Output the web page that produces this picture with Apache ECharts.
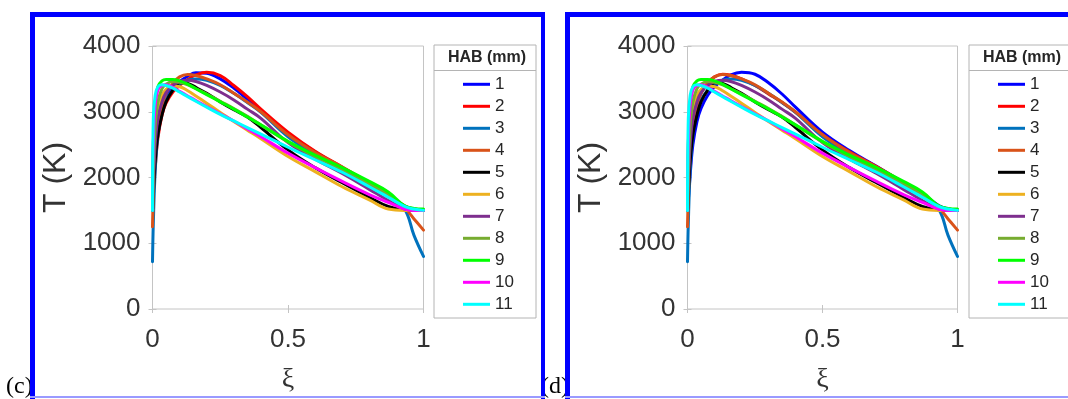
<!DOCTYPE html>
<html>
<head>
<meta charset="utf-8">
<script src="https://cdn.jsdelivr.net/npm/echarts@6/dist/echarts.min.js"></script>
<style>
  html, body { margin: 0; padding: 0; background: #fff; }
  #chart { width: 1068px; height: 399px; }
</style>
</head>
<body>
<div id="chart"></div>
<script>
// mixture fraction grid shared by all curves
const xi = [0, 0.003, 0.01, 0.02, 0.035, 0.05, 0.075, 0.1, 0.13, 0.16, 0.2, 0.25, 0.3, 0.35, 0.4, 0.5, 0.6, 0.7, 0.8, 0.87, 0.93, 0.965, 1];

// HAB 1 and 2 differ between panel (c) and (d)
const c1 = [1500, 1800, 2300, 2750, 3050, 3220, 3370, 3460, 3540, 3595, 3585, 3500, 3360, 3190, 3010, 2670, 2390, 2150, 1900, 1730, 1560, 1515, 1500];
const c2 = [1500, 1700, 2150, 2600, 2950, 3130, 3300, 3400, 3490, 3560, 3600, 3550, 3400, 3230, 3040, 2690, 2400, 2160, 1910, 1740, 1570, 1520, 1500];
const d1 = [1500, 1650, 2050, 2500, 2850, 3050, 3250, 3380, 3480, 3560, 3600, 3570, 3440, 3270, 3070, 2690, 2410, 2170, 1920, 1750, 1575, 1520, 1500];
const d2 = [1500, 1800, 2350, 2800, 3100, 3280, 3440, 3530, 3570, 3555, 3500, 3400, 3270, 3140, 2990, 2650, 2390, 2165, 1925, 1755, 1565, 1520, 1500];

// HAB 3..11, same in both panels
const t3 = [720, 1300, 2100, 2650, 3000, 3180, 3330, 3420, 3480, 3500, 3480, 3400, 3280, 3140, 2990, 2620, 2350, 2120, 1880, 1710, 1520, 1120, 800];
const t4 = [1250, 1700, 2350, 2800, 3100, 3280, 3430, 3530, 3565, 3550, 3500, 3410, 3280, 3150, 3000, 2650, 2380, 2160, 1920, 1740, 1540, 1370, 1200];
const t5 = [1500, 1750, 2250, 2650, 2950, 3150, 3330, 3440, 3430, 3370, 3280, 3150, 3030, 2920, 2760, 2420, 2150, 1920, 1700, 1560, 1510, 1500, 1500];
const t6 = [1500, 2000, 2700, 3050, 3250, 3340, 3390, 3380, 3320, 3240, 3130, 2990, 2850, 2720, 2590, 2320, 2090, 1860, 1660, 1520, 1500, 1500, 1500];
const t7 = [1500, 1900, 2500, 2900, 3150, 3290, 3400, 3460, 3480, 3460, 3400, 3300, 3180, 3040, 2900, 2530, 2280, 2060, 1820, 1650, 1520, 1500, 1500];
const t8 = [1500, 2100, 2800, 3150, 3350, 3420, 3460, 3450, 3410, 3350, 3270, 3160, 3050, 2930, 2800, 2540, 2320, 2120, 1900, 1740, 1560, 1520, 1510];
const t9 = [1500, 2500, 3100, 3380, 3470, 3490, 3490, 3470, 3420, 3350, 3260, 3150, 3040, 2920, 2800, 2550, 2340, 2150, 1940, 1780, 1570, 1530, 1520];
const t10 = [1500, 2500, 3100, 3330, 3400, 3410, 3370, 3310, 3240, 3170, 3080, 2970, 2860, 2740, 2620, 2370, 2150, 1940, 1740, 1620, 1520, 1500, 1500];
const t11 = [1500, 2900, 3250, 3380, 3410, 3400, 3360, 3300, 3230, 3160, 3070, 2960, 2860, 2760, 2660, 2460, 2270, 2080, 1860, 1700, 1560, 1520, 1500];

const habNames = ['1', '2', '3', '4', '5', '6', '7', '8', '9', '10', '11'];
const colors = ['#0000FF', '#FF0000', '#0072BD', '#D95319', '#000000', '#EDB120', '#7E2F8E', '#77AC30', '#00FF00', '#FF00FF', '#00FFFF'];
const yTicks = [0, 1000, 2000, 3000, 4000];
const xTicks = [0, 0.5, 1];

const panelC = [c1, c2, t3, t4, t5, t6, t7, t8, t9, t10, t11];
const panelD = [d1, d2, t3, t4, t5, t6, t7, t8, t9, t10, t11];

const shift = 535;          // panel (d) is panel (c) moved right
const plotLeft = 152.5, plotTop = 46, plotW = 271, plotH = 268;
const gray = '#c4c4c4';
const sans = '"Liberation Sans", Arial, sans-serif';
const serif = '"Liberation Serif", "Times New Roman", serif';

function xAxes(grid) {
  return [{
    gridIndex: grid, type: 'value', min: xTicks[0], max: xTicks[xTicks.length - 1], interval: 0.5,
    axisLine: { show: false }, splitLine: { show: false },
    axisTick: { inside: true, length: 4, lineStyle: { color: gray } },
    axisLabel: { fontSize: 26, color: '#333', fontFamily: sans, margin: 18,
      formatter: v => String(v) },
    name: 'ξ', nameLocation: 'middle', nameGap: 57,
    nameTextStyle: { fontFamily: serif, fontSize: 28, color: '#333' }
  }, {
    gridIndex: grid, type: 'value', position: 'top', min: 0, max: 1, interval: 0.5,
    axisLine: { show: false }, splitLine: { show: false }, axisLabel: { show: false },
    axisTick: { inside: true, length: 4, lineStyle: { color: gray } }
  }];
}

function yAxes(grid) {
  return [{
    gridIndex: grid, type: 'value', min: yTicks[0], max: yTicks[yTicks.length - 1], interval: 1000,
    axisLine: { show: false }, splitLine: { show: false },
    axisTick: { inside: true, length: 4, lineStyle: { color: gray } },
    axisLabel: { fontSize: 26, color: '#333', fontFamily: sans, margin: 12,
      padding: [5, 0, 0, 0], formatter: v => String(v) },
    name: 'T (K)', nameLocation: 'middle', nameGap: 80,
    nameTextStyle: { fontFamily: sans, fontSize: 32, color: '#333' }
  }, {
    gridIndex: grid, type: 'value', position: 'right', min: 0, max: 4000, interval: 1000,
    axisLine: { show: false }, splitLine: { show: false }, axisLabel: { show: false },
    axisTick: { inside: true, length: 4, lineStyle: { color: gray } }
  }];
}

function makeSeries(tables, axisIdx) {
  return tables.map((t, i) => ({
    name: habNames[i],
    type: 'line',
    xAxisIndex: axisIdx, yAxisIndex: axisIdx,
    data: xi.map((x, k) => [x, t[k]]),
    showSymbol: false, symbol: 'none',
    smooth: 0.4,
    clip: false,
    lineStyle: { width: 3, color: colors[i], cap: 'round', join: 'round' },
    itemStyle: { color: colors[i] },
    silent: true
  }));
}

function legendFor(dx) {
  return {
    left: 463 + dx, top: 73.3, orient: 'vertical', padding: 0,
    itemWidth: 27, itemHeight: 3, itemGap: 0, icon: 'rect',
    data: habNames,
    textStyle: { fontSize: 17, lineHeight: 22, color: '#262626', fontFamily: sans }
  };
}

function panelGraphics(dx, label) {
  const g = [];
  // legend frame and title
  g.push({ type: 'rect', shape: { x: 434 + dx, y: 45, width: 102, height: 273 },
    style: { fill: 'none', stroke: '#b4b4b4', lineWidth: 1 }, z: 1 });
  g.push({ type: 'line', shape: { x1: 434 + dx, y1: 70.5, x2: 536 + dx, y2: 70.5 },
    style: { stroke: '#b4b4b4', lineWidth: 1 }, z: 1 });
  g.push({ type: 'text', x: 487 + dx, y: 58,
    style: { text: 'HAB (mm)', font: 'bold 16px ' + sans, fill: '#262626', align: 'center', verticalAlign: 'middle' }, z: 1 });
  // panel letter, partly hidden under the frame
  g.push({ type: 'text', x: (dx ? 541 : 6), y: 399,
    style: { text: label, font: '24px ' + serif, fill: '#000', verticalAlign: 'bottom' }, z: 2 });
  // blue frame
  const x0 = 30 + dx;
  g.push({ type: 'rect', shape: { x: x0, y: 12, width: 5, height: 387 }, style: { fill: '#0000FF' }, z: 10 });
  g.push({ type: 'rect', shape: { x: x0, y: 12, width: 515, height: 5 }, style: { fill: '#0000FF' }, z: 10 });
  g.push({ type: 'rect', shape: { x: x0 + 511, y: 12, width: 4, height: 387 }, style: { fill: '#0000FF' }, z: 10 });
  g.push({ type: 'rect', shape: { x: x0, y: 396, width: 515, height: 2 }, style: { fill: '#9a9aff' }, z: 10 });
  return g;
}

const chart = echarts.init(document.getElementById('chart'), null, { renderer: 'canvas' });

const option = {
  animation: false,
  backgroundColor: '#fff',
  grid: [
    { left: plotLeft, top: plotTop, width: plotW, height: plotH, show: true, borderColor: gray, borderWidth: 1, backgroundColor: '#fff' },
    { left: plotLeft + shift, top: plotTop, width: plotW - 1, height: plotH, show: true, borderColor: gray, borderWidth: 1, backgroundColor: '#fff' }
  ],
  xAxis: xAxes(0).concat(xAxes(1)),
  yAxis: yAxes(0).concat(yAxes(1)),
  legend: [legendFor(0), legendFor(shift)],
  series: makeSeries(panelC, 0).concat(makeSeries(panelD, 2)),
  graphic: panelGraphics(0, '(c)').concat(panelGraphics(shift, '(d)'))
};

chart.setOption(option);
</script>
</body>
</html>
